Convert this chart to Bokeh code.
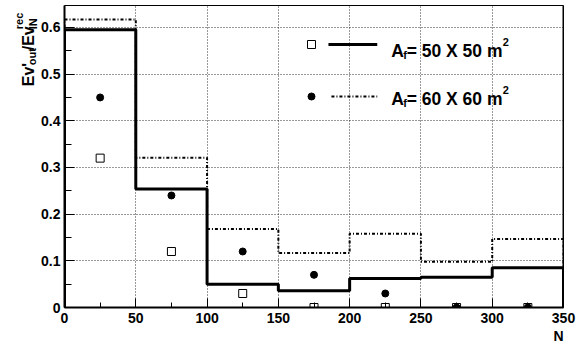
import numpy as np
from bokeh.plotting import figure
from bokeh.layouts import row
from bokeh.models import FixedTicker, Label, Span, Title
from bokeh.embed import file_html
from bokeh.resources import INLINE

# ---------------- data ----------------
bin_edges = [0, 50, 100, 150, 200, 250, 300, 350]
hist_50 = [0.595, 0.254, 0.050, 0.036, 0.062, 0.065, 0.085]
hist_60 = [0.617, 0.321, 0.168, 0.117, 0.158, 0.098, 0.147]
pts_x = [25, 75, 125, 175, 225, 275, 325]
pts_50 = [0.32, 0.12, 0.03, 0.0, 0.0, 0.0, 0.0]
pts_60 = [0.45, 0.24, 0.12, 0.07, 0.03, 0.0, 0.0]
x_ticks = [0, 50, 100, 150, 200, 250, 300, 350]
x_minor = [25, 75, 125, 175, 225, 275, 325]
y_ticks = [0, 0.1, 0.2, 0.3, 0.4, 0.5, 0.6]
y_tick_labels = ["0", "0.1", "0.2", "0.3", "0.4", "0.5", "0.6"]
y_minor = [0.05, 0.15, 0.25, 0.35, 0.45, 0.55]
legend_sizes = ["50 X 50 m", "60 X 60 m"]
x_title = "N"

FONT = "Liberation Sans"
X0, X1 = 0, 350
Y0, Y1 = 0, 0.647

W, H = 581, 344
TW = 38                              # width of the y-title strip
FL, FR, FT, FB = 62, 563, 5, 307     # frame edges in page pixels

# ---------------- y-title strip (pixel coordinates) ----------------
t = figure(width=TW, height=H, x_range=(0, TW), y_range=(H, 0),
           x_axis_type=None, y_axis_type=None, output_backend="svg",
           toolbar_location=None, min_border=0)
t.outline_line_color = None
t.background_fill_color = "white"
t.border_fill_color = "white"

def tlabel(px, py, text, size):
    t.add_layout(Label(x=px, y=py, text=text, text_font=FONT, text_font_style="bold",
                       text_font_size=size, text_color="black",
                       text_baseline="alphabetic", text_align="left",
                       angle=np.pi / 2, angle_units="rad"))

tlabel(28, 92, "Ev'", "16px")
tlabel(31.5, 68, "out", "11px")
tlabel(28, 51, "/Ev", "16px")
tlabel(18.5, 27, "rec", "11px")
tlabel(32.5, 27, "IN", "11px")

# ---------------- main plot ----------------
p = figure(width=W - TW, height=H, x_range=(X0, X1), y_range=(Y0, Y1),
           output_backend="svg", toolbar_location=None,
           min_border_left=FL - TW, min_border_right=W - FR,
           min_border_top=FT, min_border_bottom=H - FB)
p.background_fill_color = "white"
p.border_fill_color = "white"
p.outline_line_color = "black"
p.outline_line_width = 1

def px2x(px):
    return X0 + (px - FL) / (FR - FL) * (X1 - X0)
def py2y(py):
    return Y0 + (FB - py) / (FB - FT) * (Y1 - Y0)

for ax in (p.xaxis[0], p.yaxis[0]):
    ax.axis_line_width = 2
    ax.axis_line_color = "black"
    ax.major_tick_out = 0
    ax.minor_tick_out = 0
    ax.major_tick_line_color = "black"
    ax.minor_tick_line_color = "black"
    ax.major_label_text_font = FONT
    ax.major_label_text_font_style = "bold"
    ax.major_label_text_font_size = "14px"
    ax.major_label_text_color = "black"

p.xaxis.ticker = FixedTicker(ticks=x_ticks, minor_ticks=x_minor)
p.xaxis.major_tick_in = 9
p.xaxis.minor_tick_in = 5
p.xaxis.major_label_standoff = 5
p.yaxis.ticker = FixedTicker(ticks=y_ticks, minor_ticks=y_minor)
p.yaxis.major_label_overrides = {tk: lb for tk, lb in zip(y_ticks, y_tick_labels)}
p.yaxis.major_tick_in = 10
p.yaxis.minor_tick_in = 7
p.yaxis.major_label_standoff = 4

for g in (p.xgrid[0], p.ygrid[0]):
    g.grid_line_color = "black"
    g.grid_line_dash = "1 2"
    g.grid_line_width = 1
    g.grid_line_alpha = 0.8

p.add_layout(Span(location=X1, dimension="height", line_color="black", line_width=2))

p.add_layout(Title(text=x_title, align="right", text_font=FONT, text_font_style="bold",
                   text_font_size="14px", text_color="black", standoff=1, offset=0),
             "below")

def step_path(edges, vals):
    xs, ys = [edges[0]], [0.0]
    for i, v in enumerate(vals):
        xs += [edges[i], edges[i + 1]]
        ys += [v, v]
    xs.append(edges[-1])
    ys.append(0.0)
    return xs, ys

x60, y60 = step_path(bin_edges, hist_60)
p.line(x60, y60, line_color="black", line_width=2, line_dash="3 2 1 2")
x50, y50 = step_path(bin_edges, hist_50)
p.line(x50, y50, line_color="black", line_width=3)

p.scatter(pts_x, pts_50, marker="square", size=8, fill_color="white",
          line_color="black", line_width=1)
p.scatter(pts_x, pts_60, marker="circle", size=7, fill_color="black",
          line_color="black")

# ---------------- legend ----------------
rows = [dict(my=44, ty=50, marker="square", dash="solid", lw=3, lx0=327),
        dict(my=96, ty=98, marker="circle", dash="3 2 1 2", lw=2, lx0=330)]
for r, size_txt in zip(rows, legend_sizes):
    if r["marker"] == "square":
        p.scatter([px2x(310)], [py2y(r["my"])], marker="square", size=8,
                  fill_color="white", line_color="black")
    else:
        p.scatter([px2x(310)], [py2y(r["my"])], marker="circle", size=7,
                  fill_color="black", line_color="black")
    p.line([px2x(r["lx0"]), px2x(376)], [py2y(r["my"])] * 2, line_color="black",
           line_width=r["lw"], line_dash=r["dash"])
    common = dict(text_font=FONT, text_font_style="bold", text_color="black",
                  text_baseline="alphabetic", text_align="left")
    p.add_layout(Label(x=px2x(390), y=py2y(r["ty"]), text="A",
                       text_font_size="17.5px", **common))
    p.add_layout(Label(x=px2x(402), y=py2y(r["ty"] + 4), text="f",
                       text_font_size="11px", **common))
    p.add_layout(Label(x=px2x(405.5), y=py2y(r["ty"]), text="= " + size_txt,
                       text_font_size="17.5px", **common))
    p.add_layout(Label(x=px2x(502), y=py2y(r["ty"] - 9), text="2",
                       text_font_size="11px", **common))

layout = row(t, p, spacing=0)
open("out.html", "w").write(file_html(layout, INLINE))
